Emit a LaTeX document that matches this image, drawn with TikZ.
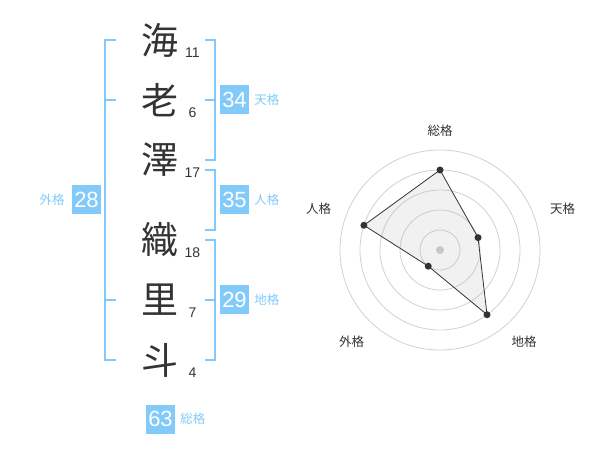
\documentclass[tikz,border=0pt]{standalone}
\usepackage{fontspec}
\usetikzlibrary{positioning,calc}
\setmainfont{Liberation Sans}
\newfontfamily\cjk{Noto Sans CJK JP}
\definecolor{kaku}{RGB}{130,202,250}
\definecolor{ink}{RGB}{51,51,51}
\begin{document}
\begin{tikzpicture}[x=1pt,y=-1pt,
  kanji/.style={text=ink,font=\cjk\fontsize{37}{37}\selectfont,inner sep=0},
  stroke/.style={text=ink,font=\fontsize{14}{14}\selectfont,inner sep=0},
  numbox/.style={fill=kaku,text=white,minimum size=29pt,inner sep=0,font=\fontsize{22}{22}\selectfont},
  kakulabel/.style={text=kaku,font=\cjk\fontsize{12.5}{12.5}\selectfont,inner sep=0},
  bracket/.style={draw=kaku,line width=2pt},
  ring/.style={draw=black!18,line width=0.8pt},
  axislabel/.style={text=ink,font=\cjk\fontsize{12.5}{12.5}\selectfont,inner sep=0},
  dot/.style={fill=ink}]
\useasboundingbox (0,0) rectangle (600,470);
% name
\node[kanji] (k1) at (160,40) {海};
\node[kanji] (k2) at (160,100) {老};
\node[kanji] (k3) at (160,160) {澤};
\node[kanji] (k4) at (160,240) {織};
\node[kanji] (k5) at (160,300) {里};
\node[kanji] (k6) at (160,360) {斗};
\node[stroke] (s1) at (192.5,53) {11};
\node[stroke] (s2) at (192.5,113) {6};
\node[stroke] (s3) at (192.5,173) {17};
\node[stroke] (s4) at (192.5,253) {18};
\node[stroke] (s5) at (192.5,313) {7};
\node[stroke] (s6) at (192.5,373) {4};
% brackets
\draw[bracket] (116,40) -- (105,40) -- (105,360) -- (116,360);
\draw[bracket] (105,100) -- (116,100);
\draw[bracket] (105,300) -- (116,300);
\draw[bracket] (205,40) -- (214.5,40) -- (214.5,160) -- (205,160);
\draw[bracket] (205,100) -- (214.5,100);
\draw[bracket] (205,170) -- (214.5,170) -- (214.5,230) -- (205,230);
\draw[bracket] (205,240) -- (214.5,240) -- (214.5,360) -- (205,360);
\draw[bracket] (205,300) -- (214.5,300);
% totals
\node[numbox] (ten) at (234.5,100) {34};
\node[kakulabel,right=5pt of ten] (tenl) {天格};
\node[numbox] (jin) at (234.5,200) {35};
\node[kakulabel,right=5pt of jin] (jinl) {人格};
\node[numbox] (chi) at (234.5,300) {29};
\node[kakulabel,right=5pt of chi] (chil) {地格};
\node[numbox] (gai) at (86.5,200) {28};
\node[kakulabel,left=7pt of gai] (gail) {外格};
\node[numbox] (sou) at (160.5,419) {63};
\node[kakulabel,right=5pt of sou] (soul) {総格};
% radar
\foreach \r in {20,40,...,100}
  \draw[ring] (440,250) circle (\r);
\fill[black!20] (440,250) circle (4);
\coordinate (p1) at ($(440,250)+(-90:80)$);
\coordinate (p2) at ($(440,250)+(-18:40)$);
\coordinate (p3) at ($(440,250)+(54:80)$);
\coordinate (p4) at ($(440,250)+(126:20)$);
\coordinate (p5) at ($(440,250)+(198:80)$);
\draw[ink,line width=0.8pt,fill=black!30,fill opacity=0.18] (p1) -- (p2) -- (p3) -- (p4) -- (p5) -- cycle;
\foreach \p in {p1,p2,p3,p4,p5}
  \fill[dot] (\p) circle (3.5);
\node[axislabel] (a1) at (440,130.5) {総格};
\node[axislabel] (a2) at (562.5,208.5) {天格};
\node[axislabel] (a3) at (524,341.5) {地格};
\node[axislabel] (a4) at (351.5,341.5) {外格};
\node[axislabel] (a5) at (318.5,208.5) {人格};
\end{tikzpicture}
\end{document}
